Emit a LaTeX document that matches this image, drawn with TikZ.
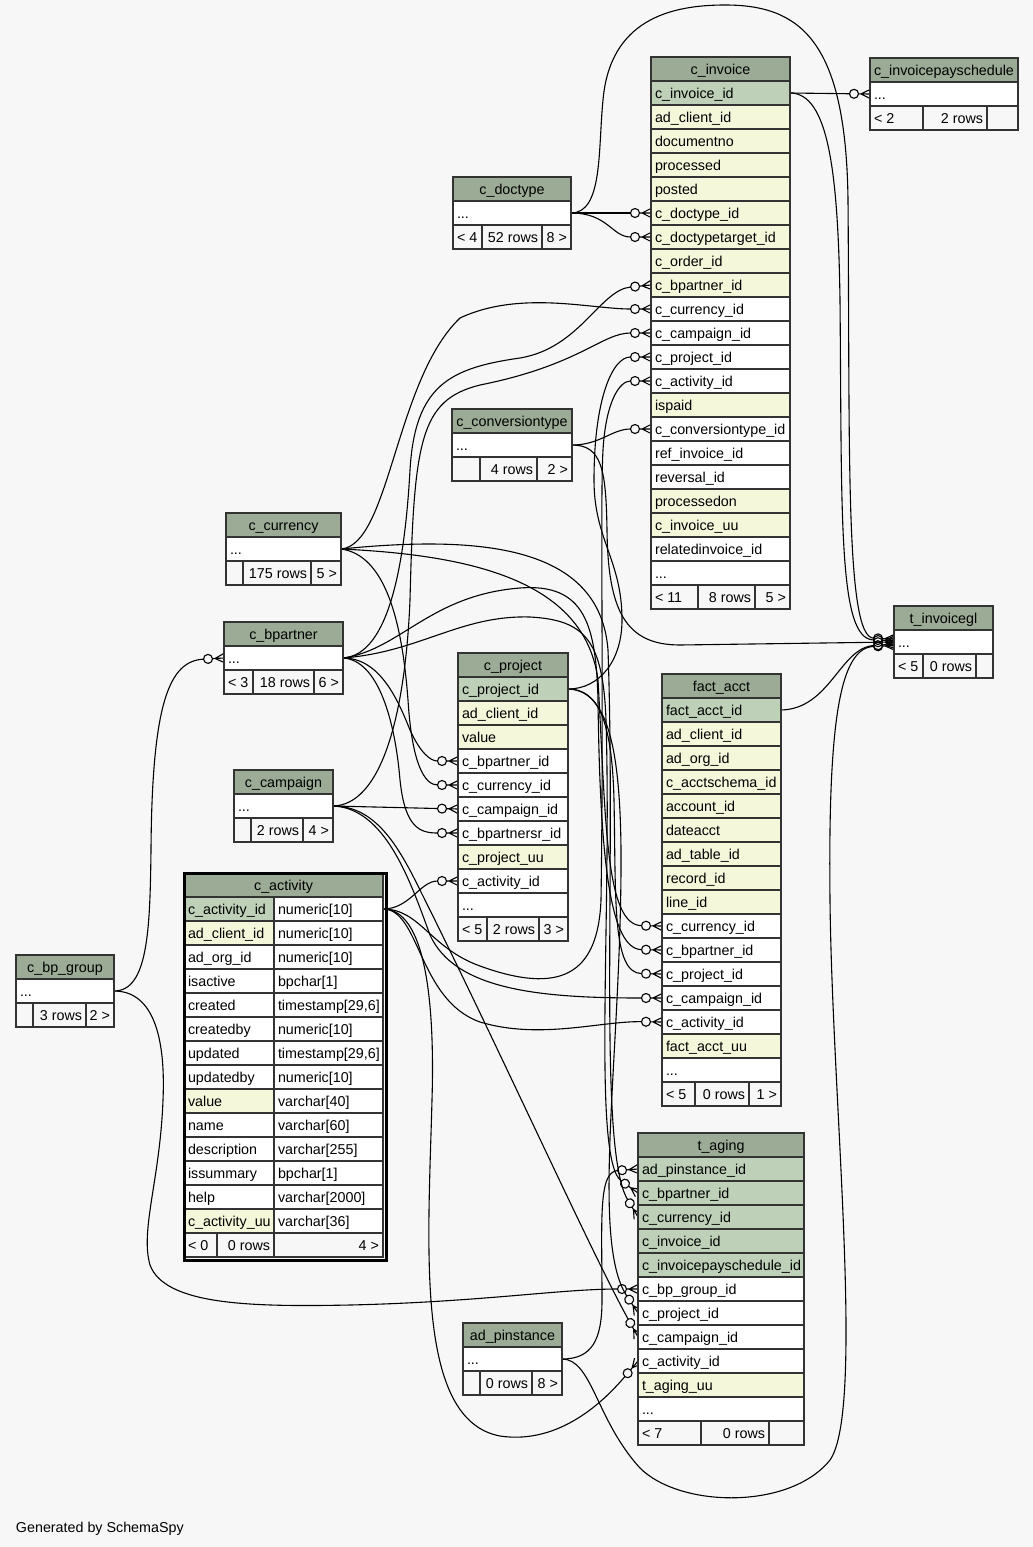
\documentclass[tikz,border=0pt]{standalone}
\usepackage{fontspec}
\setmainfont{Liberation Sans}
\usetikzlibrary{arrows.meta}

\definecolor{bgc}{HTML}{F7F7F7}
\definecolor{hdc}{HTML}{9BAB96}
\definecolor{pkc}{HTML}{BED1B8}
\definecolor{ixc}{HTML}{F4F7DA}
\definecolor{wtc}{HTML}{FFFFFF}
\definecolor{ftc}{HTML}{F7F7F7}
\definecolor{brd}{HTML}{333333}

\pgfdeclarearrow{
  name = CrowODot,
  setup code = {
    \pgfarrowssettipend{0pt}
    \pgfarrowssetlineend{-20.5pt}
    \pgfarrowssetbackend{-21pt}
    \pgfarrowssetvisualbackend{-20.5pt}
    \pgfarrowshullpoint{0pt}{4.5pt}
    \pgfarrowshullpoint{0pt}{-4.5pt}
    \pgfarrowshullpoint{-21pt}{0pt}
  },
  drawing code = {
    \pgfsetroundjoin
    \pgfpathmoveto{\pgfpoint{-11.5pt}{0pt}}
    \pgfpathlineto{\pgfpoint{0pt}{0pt}}
    \pgfpathmoveto{\pgfpoint{-9pt}{0pt}}
    \pgfpathlineto{\pgfpoint{0pt}{4.5pt}}
    \pgfpathmoveto{\pgfpoint{-9pt}{0pt}}
    \pgfpathlineto{\pgfpoint{0pt}{-4.5pt}}
    \pgfusepathqstroke
    \pgfpathcircle{\pgfpoint{-16pt}{0pt}}{4.5pt}
    \pgfusepathqstroke
  },
  defaults = {}
}

\pgfdeclarelayer{bglayer}
\pgfdeclarelayer{edgelayer}
\pgfsetlayers{bglayer,edgelayer,main}

\tikzset{
  cellbox/.style={draw=brd, line width=1.2pt, minimum height=24, inner sep=0pt, outer sep=0pt},
  txt/.style={inner sep=0pt, outer sep=0pt, font=\fontsize{14.3}{17}\selectfont},
  rel/.style={draw=black, line width=1.1pt, -{CrowODot}},
}

% header cell: name, x, ytop, width, text
\newcommand\THead[5]{%
  \node[cellbox, fill=hdc, minimum width=#4, anchor=north west] (#1) at ({#2},{#3}) {};
  \node[txt, anchor=base] (#1-t) at ({#2+#4/2},{#3+17.5}) {#5};}
% row cell, left text: name, x, ytop, width, fill, text
\newcommand\TRow[6]{%
  \node[cellbox, fill=#5, minimum width=#4, anchor=north west] (#1) at ({#2},{#3}) {};
  \node[txt, anchor=base west] (#1-t) at ({#2+4},{#3+17.5}) {#6};}
% row cell, right text
\newcommand\TRowR[6]{%
  \node[cellbox, fill=#5, minimum width=#4, anchor=north west] (#1) at ({#2},{#3}) {};
  \node[txt, anchor=base east] (#1-t) at ({#2+#4-4},{#3+17.5}) {#6};}
% empty cell
\newcommand\TBox[5]{%
  \node[cellbox, fill=#5, minimum width=#4, anchor=north west] (#1) at ({#2},{#3}) {};}

\begin{document}
\begin{tikzpicture}[x=1pt, y=-1pt]
\useasboundingbox (0,0) rectangle (1033,1547);
\begin{pgfonlayer}{bglayer}
\fill[bgc] (0,0) rectangle (1033,1547);
\end{pgfonlayer}

% ---------------- c_invoice ----------------
\THead{inv-h}{651}{57}{139}{c\_invoice}
\foreach[count=\i] \nm/\fl/\tx in {id/pkc/c\_invoice\_id, r2/ixc/ad\_client\_id, r3/ixc/documentno,
  r4/ixc/processed, r5/ixc/posted, doctype/ixc/c\_doctype\_id, doctypetarget/ixc/c\_doctypetarget\_id,
  r8/ixc/c\_order\_id, bpartner/ixc/c\_bpartner\_id, currency/wtc/c\_currency\_id,
  campaign/wtc/c\_campaign\_id, project/wtc/c\_project\_id, activity/wtc/c\_activity\_id,
  r14/ixc/ispaid, conv/wtc/c\_conversiontype\_id, r16/wtc/ref\_invoice\_id, r17/wtc/reversal\_id,
  r18/ixc/processedon, r19/ixc/c\_invoice\_uu, r20/wtc/relatedinvoice\_id}
  {\TRow{inv-\nm}{651}{57+24*\i}{139}{\fl}{\tx}}
\TRow{inv-dots}{651}{561}{139}{wtc}{...}
\TRow{inv-f1}{651}{585}{47}{ftc}{< 11}
\TRowR{inv-f2}{698}{585}{57}{ftc}{8 rows}
\TRowR{inv-f3}{755}{585}{35}{ftc}{5 >}

% ---------------- c_invoicepayschedule ----------------
\THead{ips-h}{870}{58}{148}{c\_invoicepayschedule}
\TRow{ips-dots}{870}{82}{148}{wtc}{...}
\TRow{ips-f1}{870}{106}{53}{ftc}{< 2}
\TRowR{ips-f2}{923}{106}{64}{ftc}{2 rows}
\TBox{ips-f3}{987}{106}{31}{ftc}

% ---------------- c_doctype ----------------
\THead{dt-h}{453}{177}{118}{c\_doctype}
\TRow{dt-dots}{453}{201}{118}{wtc}{...}
\TRow{dt-f1}{453}{225}{29}{ftc}{< 4}
\TRowR{dt-f2}{482}{225}{60}{ftc}{52 rows}
\TRowR{dt-f3}{542}{225}{29}{ftc}{8 >}

% ---------------- c_conversiontype ----------------
\THead{ct-h}{452}{409}{120}{c\_conversiontype}
\TRow{ct-dots}{452}{433}{120}{wtc}{...}
\TBox{ct-f1}{452}{457}{28}{ftc}
\TRowR{ct-f2}{480}{457}{57}{ftc}{4 rows}
\TRowR{ct-f3}{537}{457}{35}{ftc}{2 >}

% ---------------- c_currency ----------------
\THead{cur-h}{226}{513}{115}{c\_currency}
\TRow{cur-dots}{226}{537}{115}{wtc}{...}
\TBox{cur-f1}{226}{561}{17}{ftc}
\TRowR{cur-f2}{243}{561}{68}{ftc}{175 rows}
\TRowR{cur-f3}{311}{561}{30}{ftc}{5 >}

% ---------------- c_bpartner ----------------
\THead{bp-h}{224}{622}{119}{c\_bpartner}
\TRow{bp-dots}{224}{646}{119}{wtc}{...}
\TRow{bp-f1}{224}{670}{29}{ftc}{< 3}
\TRowR{bp-f2}{253}{670}{61}{ftc}{18 rows}
\TRowR{bp-f3}{314}{670}{29}{ftc}{6 >}

% ---------------- c_campaign ----------------
\THead{camp-h}{234}{770}{99}{c\_campaign}
\TRow{camp-dots}{234}{794}{99}{wtc}{...}
\TBox{camp-f1}{234}{818}{17}{ftc}
\TRowR{camp-f2}{251}{818}{52}{ftc}{2 rows}
\TRowR{camp-f3}{303}{818}{30}{ftc}{4 >}

% ---------------- c_bp_group ----------------
\THead{bpg-h}{16}{955}{98}{c\_bp\_group}
\TRow{bpg-dots}{16}{979}{98}{wtc}{...}
\TBox{bpg-f1}{16}{1003}{17}{ftc}
\TRowR{bpg-f2}{33}{1003}{53}{ftc}{3 rows}
\TRowR{bpg-f3}{86}{1003}{28}{ftc}{2 >}

% ---------------- c_project ----------------
\THead{prj-h}{458}{653}{110}{c\_project}
\foreach[count=\i] \nm/\fl/\tx in {id/pkc/c\_project\_id, r2/ixc/ad\_client\_id, r3/ixc/value,
  bpartner/wtc/c\_bpartner\_id, currency/wtc/c\_currency\_id, campaign/wtc/c\_campaign\_id,
  bpartnersr/wtc/c\_bpartnersr\_id, r8/ixc/c\_project\_uu, activity/wtc/c\_activity\_id}
  {\TRow{prj-\nm}{458}{653+24*\i}{110}{\fl}{\tx}}
\TRow{prj-dots}{458}{893}{110}{wtc}{...}
\TRow{prj-f1}{458}{917}{29}{ftc}{< 5}
\TRowR{prj-f2}{487}{917}{52}{ftc}{2 rows}
\TRowR{prj-f3}{539}{917}{29}{ftc}{3 >}

% ---------------- c_activity ----------------
\THead{act-h}{184}{873}{199}{c\_activity}
\foreach[count=\i] \nm/\fl/\tx/\ty in {id/pkc/c\_activity\_id/numeric[10], r2/ixc/ad\_client\_id/numeric[10],
  r3/wtc/ad\_org\_id/numeric[10], r4/wtc/isactive/bpchar[1], r5/wtc/created/{timestamp[29,6]},
  r6/wtc/createdby/numeric[10], r7/wtc/updated/{timestamp[29,6]}, r8/wtc/updatedby/numeric[10],
  r9/ixc/value/varchar[40], r10/wtc/name/varchar[60], r11/wtc/description/varchar[255],
  r12/wtc/issummary/bpchar[1], r13/wtc/help/varchar[2000], r14/ixc/c\_activity\_uu/varchar[36]}
  {\TRow{act-\nm}{184}{873+24*\i}{90}{\fl}{\tx}
   \TRow{act-\nm-ty}{274}{873+24*\i}{109}{wtc}{\ty}}
\TRow{act-f1}{184}{1233}{33}{ftc}{< 0}
\TRowR{act-f2}{217}{1233}{57}{ftc}{0 rows}
\TRowR{act-f3}{274}{1233}{109}{ftc}{4 >}
\node[draw=black, line width=3pt, minimum width=202, minimum height=387, inner sep=0pt,
  anchor=north west] (act-frame) at (182.5,871.5) {};

% ---------------- fact_acct ----------------
\THead{fa-h}{662}{674}{119}{fact\_acct}
\foreach[count=\i] \nm/\fl/\tx in {id/pkc/fact\_acct\_id, r2/ixc/ad\_client\_id, r3/ixc/ad\_org\_id,
  r4/ixc/c\_acctschema\_id, r5/ixc/account\_id, r6/ixc/dateacct, r7/ixc/ad\_table\_id,
  r8/ixc/record\_id, r9/ixc/line\_id, currency/wtc/c\_currency\_id, bpartner/wtc/c\_bpartner\_id,
  project/wtc/c\_project\_id, campaign/wtc/c\_campaign\_id, activity/wtc/c\_activity\_id,
  r15/ixc/fact\_acct\_uu}
  {\TRow{fa-\nm}{662}{674+24*\i}{119}{\fl}{\tx}}
\TRow{fa-dots}{662}{1058}{119}{wtc}{...}
\TRow{fa-f1}{662}{1082}{33}{ftc}{< 5}
\TRowR{fa-f2}{695}{1082}{54}{ftc}{0 rows}
\TRowR{fa-f3}{749}{1082}{32}{ftc}{1 >}

% ---------------- t_invoicegl ----------------
\THead{tig-h}{894}{606}{99}{t\_invoicegl}
\TRow{tig-dots}{894}{630}{99}{wtc}{...}
\TRow{tig-f1}{894}{654}{29}{ftc}{< 5}
\TRowR{tig-f2}{923}{654}{53}{ftc}{0 rows}
\TBox{tig-f3}{976}{654}{17}{ftc}

% ---------------- t_aging ----------------
\THead{tag-h}{638}{1133}{166}{t\_aging}
\foreach[count=\i] \nm/\fl/\tx in {pinst/pkc/ad\_pinstance\_id, bpartner/pkc/c\_bpartner\_id,
  currency/pkc/c\_currency\_id, invoice/pkc/c\_invoice\_id, ips/pkc/c\_invoicepayschedule\_id,
  bpgroup/wtc/c\_bp\_group\_id, project/wtc/c\_project\_id, campaign/wtc/c\_campaign\_id,
  activity/wtc/c\_activity\_id, r10/ixc/t\_aging\_uu}
  {\TRow{tag-\nm}{638}{1133+24*\i}{166}{\fl}{\tx}}
\TRow{tag-dots}{638}{1397}{166}{wtc}{...}
\TRow{tag-f1}{638}{1421}{63}{ftc}{< 7}
\TRowR{tag-f2}{701}{1421}{68}{ftc}{0 rows}
\TBox{tag-f3}{769}{1421}{35}{ftc}

% ---------------- ad_pinstance ----------------
\THead{adp-h}{463}{1323}{99}{ad\_pinstance}
\TRow{adp-dots}{463}{1347}{99}{wtc}{...}
\TBox{adp-f1}{463}{1371}{17}{ftc}
\TRowR{adp-f2}{480}{1371}{52}{ftc}{0 rows}
\TRowR{adp-f3}{532}{1371}{30}{ftc}{8 >}

\node[txt, anchor=base west] (gen) at (16,1532) {Generated by SchemaSpy};

% ================= relationships =================
\begin{pgfonlayer}{edgelayer}
% c_doctype
\draw[rel] (dt-dots.east) -- (inv-doctype.west);
\draw[rel] (dt-dots.east) .. controls (608,213) and (612,237) .. (inv-doctypetarget.west);
\draw[rel] (dt-dots.east) .. controls (603,213) and (598,150) .. (603,100)
  .. controls (610,20) and (670,5) .. (725,5) .. controls (800,5) and (846,40) .. (848,200)
  .. controls (850,450) and (845,637) .. ([yshift=3pt]tig-dots.west);
% c_invoice
\draw[rel] (inv-id.east) -- (ips-dots.west);
\draw[rel] (inv-id.east) .. controls (828,93) and (838,170) .. (840,300)
  .. controls (842,520) and (838,639) .. ([yshift=1.5pt]tig-dots.west);
% c_conversiontype
\draw[rel] (ct-dots.east) .. controls (600,445) and (612,429) .. (inv-conv.west);
\draw[rel] (ct-dots.east) .. controls (602,445) and (606,470) .. (607,530)
  .. controls (608,610) and (625,645) .. (680,645) -- (tig-dots.west);
% c_currency
\draw[rel] (cur-dots.east) .. controls (390,545) and (395,380) .. (460,318)
  .. controls (520,290) and (590,309) .. (inv-currency.west);
\draw[rel] (cur-dots.east) .. controls (385,555) and (402,620) .. (408,700)
  .. controls (412,765) and (425,785) .. (prj-currency.west);
\draw[rel] (cur-dots.east) .. controls (470,555) and (585,580) .. (598,680)
  .. controls (606,820) and (605,925) .. (fa-currency.west);
\draw[rel] (cur-dots.east) .. controls (480,535) and (600,545) .. (608,650)
  .. controls (616,880) and (598,1150) .. (tag-currency.west);
% c_bpartner
\draw[rel] (bp-dots.east) .. controls (390,655) and (405,560) .. (410,470)
  .. controls (415,385) and (450,368) .. (520,358) .. controls (580,348) and (600,290) .. (inv-bpartner.west);
\draw[rel] (bp-dots.east) .. controls (380,658) and (398,700) .. (410,730)
  .. controls (420,752) and (430,761) .. (prj-bpartner.west);
\draw[rel] (bp-dots.east) .. controls (378,660) and (395,720) .. (400,780)
  .. controls (405,828) and (420,833) .. (prj-bpartnersr.west);
\draw[rel] (bp-dots.east) .. controls (400,650) and (430,595) .. (520,588)
  .. controls (585,583) and (596,625) .. (598,700) .. controls (600,860) and (610,949) .. (fa-bpartner.west);
\draw[rel] (bp-dots.east) .. controls (420,652) and (460,615) .. (530,617)
  .. controls (585,620) and (603,640) .. (606,720) .. controls (612,920) and (592,1160) .. (tag-bpartner.west);
% c_campaign
\draw[rel] (camp-dots.east) .. controls (380,805) and (405,720) .. (410,600)
  .. controls (414,440) and (420,400) .. (480,385) .. controls (580,365) and (602,333) .. (inv-campaign.west);
\draw[rel] (camp-dots.east) -- (prj-campaign.west);
\draw[rel] (camp-dots.east) .. controls (385,808) and (410,880) .. (430,935)
  .. controls (455,990) and (540,998) .. (fa-campaign.west);
\draw[rel] (camp-dots.east) .. controls (375,806) and (398,845) .. (420,890)
  .. controls (500,1050) and (590,1250) .. (tag-campaign.west);
% c_activity
\draw[rel] (act-id-ty.east) .. controls (410,909) and (420,881) .. (prj-activity.west);
\draw[rel] (act-id-ty.east) .. controls (420,909) and (430,948) .. (480,966)
  .. controls (560,995) and (598,975) .. (601,900) .. controls (604,700) and (600,500) .. (603,450)
  .. controls (606,400) and (620,381) .. (inv-activity.west);
\draw[rel] (act-id-ty.east) .. controls (420,909) and (418,1000) .. (480,1022)
  .. controls (540,1040) and (600,1021) .. (fa-activity.west);
\draw[rel] (act-id-ty.east) .. controls (425,909) and (435,1000) .. (432,1100)
  .. controls (428,1250) and (415,1420) .. (500,1436) .. controls (560,1445) and (605,1400) .. (tag-activity.west);
% c_project
\draw[rel] (prj-id.east) .. controls (600,689) and (622,660) .. (622,620)
  .. controls (622,560) and (594,540) .. (594,480) .. controls (594,400) and (612,357) .. (inv-project.west);
\draw[rel] (prj-id.east) .. controls (598,689) and (612,720) .. (614,800)
  .. controls (616,900) and (612,973) .. (fa-project.west);
\draw[rel] (prj-id.east) .. controls (605,690) and (620,740) .. (621,850)
  .. controls (622,1050) and (590,1240) .. (tag-project.west);
% fact_acct
\draw[rel] (fa-id.east) .. controls (830,709) and (840,648) .. ([yshift=-2pt]tig-dots.west);
% c_bp_group
\draw[rel] (bpg-dots.east) .. controls (148,991) and (150,930) .. (151,850)
  .. controls (152,700) and (170,661) .. (bp-dots.west);
\draw[rel] (bpg-dots.east) .. controls (150,991) and (166,1030) .. (163,1100)
  .. controls (160,1180) and (140,1230) .. (150,1265) .. controls (165,1305) and (250,1307) .. (350,1305)
  .. controls (480,1302) and (560,1289) .. (tag-bpgroup.west);
% ad_pinstance
\draw[rel] (adp-dots.east) .. controls (592,1359) and (602,1340) .. (602,1300)
  .. controls (602,1220) and (598,1172) .. (tag-pinst.west);
\draw[rel] (adp-dots.east) .. controls (592,1359) and (596,1420) .. (640,1468)
  .. controls (680,1508) and (790,1510) .. (830,1460) .. controls (865,1410) and (832,1100) .. (830,900)
  .. controls (828,720) and (840,648) .. ([yshift=-3.5pt]tig-dots.west);
\end{pgfonlayer}
\end{tikzpicture}
\end{document}
